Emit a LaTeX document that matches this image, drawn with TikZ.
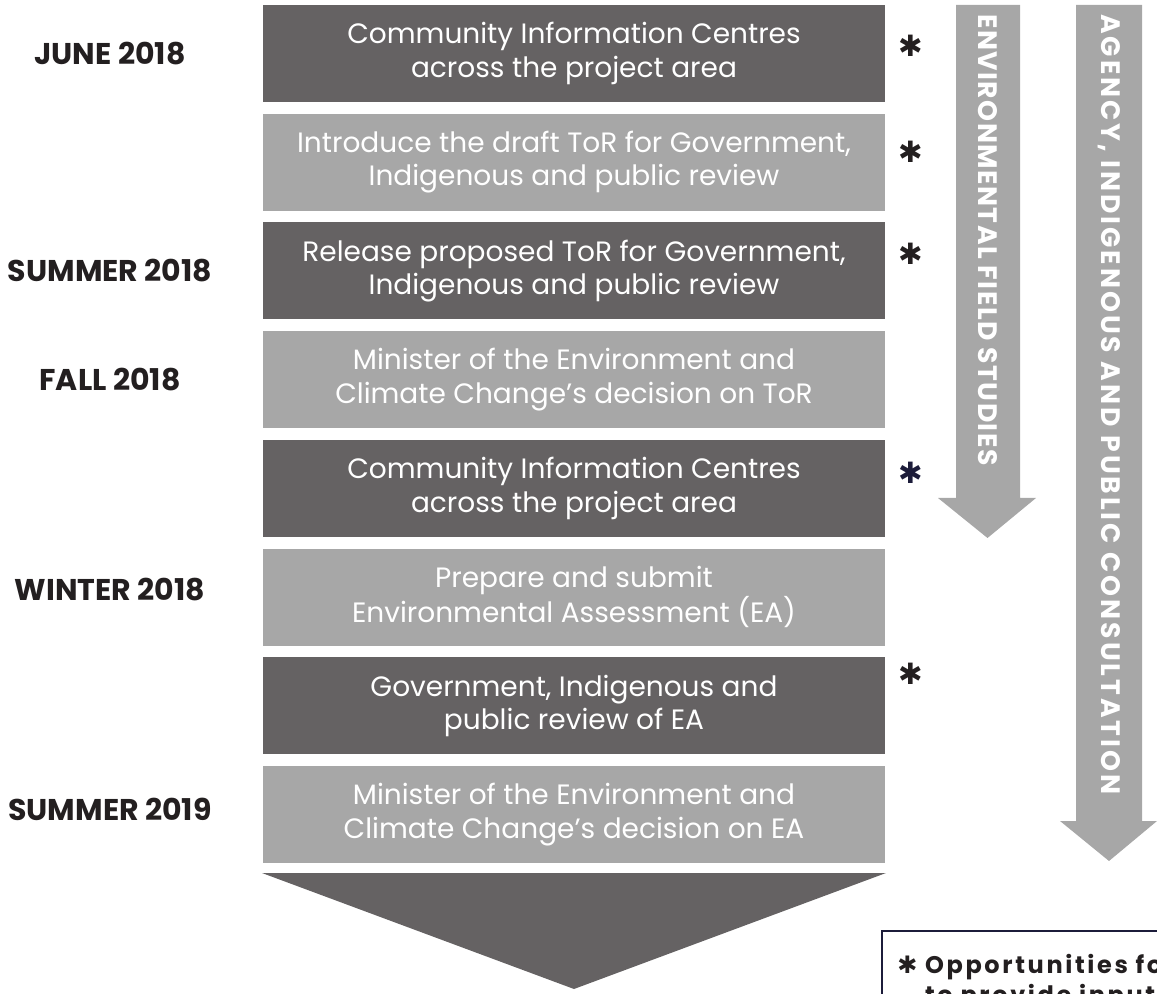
\documentclass[tikz,border=0pt]{standalone}
\usepackage{fontspec}
\setmainfont{Poppins}
\newfontfamily\symbolfont{DejaVu Sans}
\newfontfamily\fieldfont[LetterSpace=5.4]{Poppins}
\newfontfamily\consultfont[LetterSpace=11]{Poppins}
\newfontfamily\keyfont[LetterSpace=11]{Poppins}
\usetikzlibrary{positioning}
\definecolor{darkstep}{HTML}{656263}
\definecolor{lightstep}{HTML}{A7A7A7}
\definecolor{inkblack}{HTML}{231F20}
\definecolor{keyblue}{HTML}{1C1C3A}

\begin{document}
\begin{tikzpicture}[
        x=0.75pt, y=-0.75pt,
        stage/.style = {
            shape=rectangle,
            minimum width=466.5pt,
            minimum height=72.75pt,
            inner sep=0pt,
            align=center,
            text=white,
            font=\fontsize{21}{25}\selectfont
        },
        darkstage/.style = {stage, fill=darkstep},
        lightstage/.style = {stage, fill=lightstep},
        date/.style = {font=\fontsize{22.5}{26}\selectfont\bfseries, text=inkblack},
        input/.style = {font=\symbolfont\fontsize{22}{22}\selectfont, text=inkblack},
        band/.style = {fill=lightstep},
        bandtext/.style = {
            rotate=-90, anchor=west, inner sep=0pt, text=white,
            font=#1\bfseries\fontsize{20}{24}\selectfont
        },
        stagegap/.style = {below=8.4pt of #1}
    ]
    \useasboundingbox (0,0) rectangle (1157,994);
    \clip (0,0) rectangle (1157,994);

    % STAGES
    \node[darkstage] (s1) at (574,53.5) {Community Information Centres\\across the project area};
    \node[lightstage, stagegap=s1] (s2) {Introduce the draft ToR for Government,\\Indigenous and public review};
    \node[darkstage, stagegap=s2] (s3) {Release proposed ToR for Government,\\Indigenous and public review};
    \node[lightstage, stagegap=s3] (s4) {Minister of the Environment and\\Climate Change’s decision on ToR};
    \node[darkstage, stagegap=s4] (s5) {Community Information Centres\\across the project area};
    \node[lightstage, stagegap=s5] (s6) {Prepare and submit\\Environmental Assessment (EA)};
    \node[darkstage, stagegap=s6] (s7) {Government, Indigenous and\\public review of EA};
    \node[lightstage, stagegap=s7] (s8) {Minister of the Environment and\\Climate Change’s decision on EA};
    \fill[darkstep] (262,873) -- (886,873) -- (574,989) -- cycle;

    % DATES
    \coordinate (datecol) at (110,0);
    \node[date] (d1) at (datecol |- s1) {JUNE 2018};
    \node[date] (d3) at (datecol |- s3) {SUMMER 2018};
    \node[date] (d4) at (datecol |- s4) {FALL 2018};
    \node[date] (d6) at ([yshift=6pt] datecol |- s6) {WINTER 2018};
    \node[date] (d8) at ([yshift=4pt] datecol |- s8) {SUMMER 2019};

    % INPUT MARKS
    \coordinate (inputcol) at (911,0);
    \node[input] (i1) at ([yshift=6pt] inputcol |- s1) {✱};
    \node[input] (i2) at ([yshift=8pt] inputcol |- s2) {✱};
    \node[input] (i3) at ([yshift=13pt] inputcol |- s3) {✱};
    \node[input, text=keyblue] (i5) at ([yshift=12pt] inputcol |- s5) {✱};
    \node[input] (i7) at ([yshift=24pt] inputcol |- s7) {✱};

    % BANDS
    \fill[band] (956,5) -- (1020,5) -- (1020,498) -- (1036,498) -- (987.5,538)
        -- (938,498) -- (956,498) -- cycle;
    \node[bandtext=\fieldfont] (b1) at (988,14) {ENVIRONMENTAL FIELD STUDIES};
    \fill[band] (1076,5) -- (1142,5) -- (1142,821) -- (1157,821) -- (1109,861)
        -- (1060,821) -- (1076,821) -- cycle;
    \node[bandtext=\consultfont] (b2) at (1109,14) {AGENCY, INDIGENOUS AND PUBLIC CONSULTATION};

    % KEY
    \draw[keyblue, line width=1.5pt] (882,931) rectangle (1220,1060);
    \node[anchor=north west, inner sep=0pt, align=left, text=inkblack,
        font=\keyfont\bfseries\fontsize{18}{22.5}\selectfont] (key) at (897,954)
        {{\symbolfont ✱}\ Opportunities for\\\phantom{{\symbolfont ✱}\ }to provide input};
\end{tikzpicture}
\end{document}
